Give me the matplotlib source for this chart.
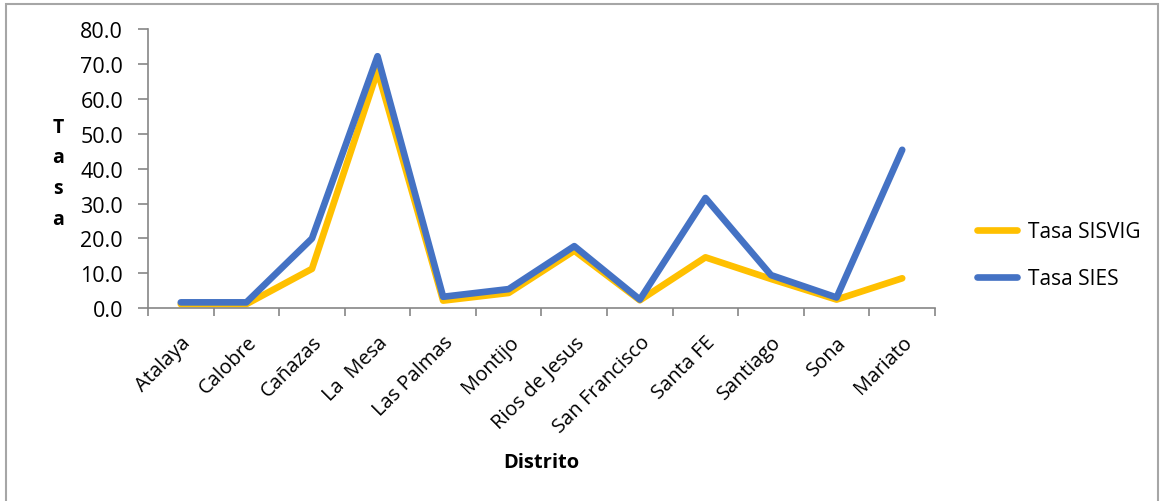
import matplotlib
matplotlib.use("Agg")
import matplotlib.pyplot as plt
from matplotlib.patches import Rectangle
from matplotlib.ticker import FormatStrFormatter, FixedLocator

distritos = ["Atalaya", "Calobre", "Cañazas", "La  Mesa", "Las Palmas", "Montijo",
             "Rios de Jesus", "San Francisco", "Santa FE", "Santiago", "Sona", "Mariato"]
tasa_sisvig = [1.2, 1.2, 11.3, 68.0, 2.2, 4.4, 16.5, 2.3, 14.6, 8.4, 2.5, 8.6]
tasa_sies = [1.7, 1.7, 20.0, 72.2, 3.3, 5.5, 17.8, 2.5, 31.6, 9.5, 3.1, 45.4]
y_ticks = [0, 10, 20, 30, 40, 50, 60, 70, 80]

plt.rcParams['font.family'] = ['Open Sans', 'DejaVu Sans']

fig = plt.figure(figsize=(11.62, 5.02), dpi=100)
W, H = 1162, 502

# outer chart frame
fig.patches.append(Rectangle((6 / W, -0.02), (1158 - 6) / W, 1.02 - 5 / H,
                             transform=fig.transFigure, fill=False,
                             edgecolor="#a6a6a6", linewidth=1.5))

ax = fig.add_axes([148 / W, 1 - 309.3 / H, (935 - 148) / W, (309.3 - 30) / H])
x = list(range(len(distritos)))

ax.plot(x, tasa_sisvig, color="#FFC000", linewidth=4.8, solid_capstyle="round",
        solid_joinstyle="round", label="Tasa SISVIG")
ax.plot(x, tasa_sies, color="#4472C4", linewidth=4.8, solid_capstyle="round",
        solid_joinstyle="round", label="Tasa SIES")

ax.set_xlim(-0.5, len(distritos) - 0.5)
ax.set_ylim(0, 80)
ax.set_yticks(y_ticks)
ax.yaxis.set_major_formatter(FormatStrFormatter("%.1f"))

ax.set_xticks(x)
ax.set_xticklabels(distritos, rotation=45, ha="right", rotation_mode="anchor",
                   fontsize=14.5)
ax.xaxis.set_minor_locator(FixedLocator([i - 0.5 for i in range(len(distritos) + 1)]))
ax.tick_params(axis="x", which="major", length=0, pad=17)
ax.tick_params(axis="x", which="minor", length=6, color="#868686", width=1.2)
ax.tick_params(axis="y", length=7, color="#868686", width=1.2, labelsize=15.5, pad=11)

for side in ("top", "right"):
    ax.spines[side].set_visible(False)
for side in ("left", "bottom"):
    ax.spines[side].set_color("#868686")
    ax.spines[side].set_linewidth(1.2)

ax.text(-0.114, 0.485, "T\na\ns\na", transform=ax.transAxes, ha="center",
        va="center", fontsize=14, fontweight="bold", linespacing=1.72)
ax.text(0.4994, -0.55, "Distrito", transform=ax.transAxes, ha="center",
        va="center", fontsize=14.5, fontweight="bold")

ax.legend(loc="center left", bbox_to_anchor=(1.03, 0.19), frameon=False,
          fontsize=15, handlelength=1.9, labelspacing=1.25, handletextpad=0.55)

fig.savefig("out.png", dpi=100)
